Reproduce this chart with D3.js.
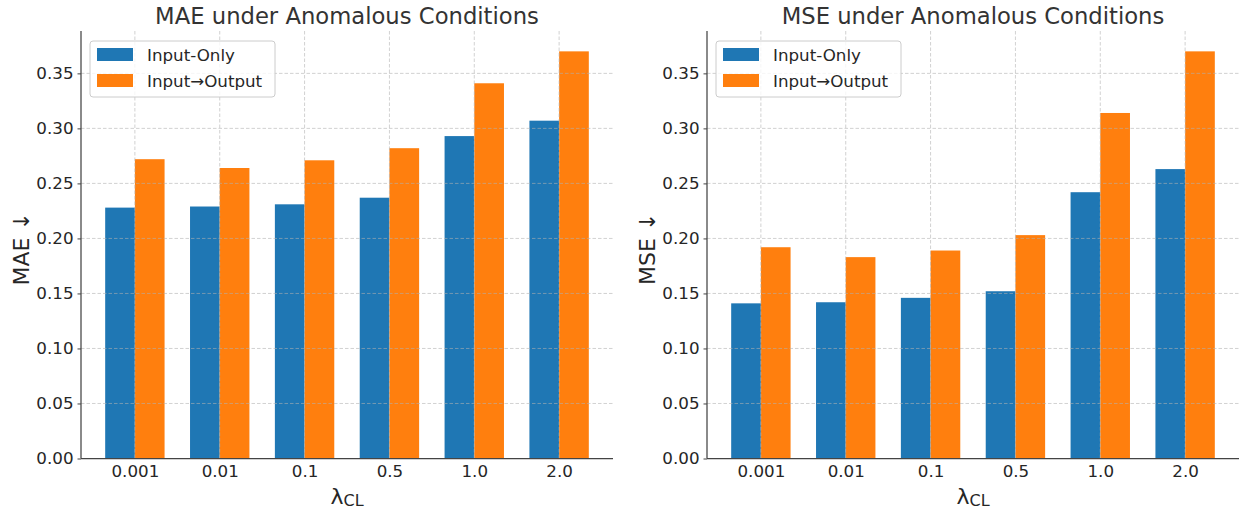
<!DOCTYPE html>
<html>
<head>
<meta charset="utf-8">
<script src="https://cdn.jsdelivr.net/npm/d3@7"></script>
<style>
  html, body { margin: 0; padding: 0; background: #fff; }
  svg { display: block; font-family: "DejaVu Sans", sans-serif; }
</style>
</head>
<body>
<svg id="chart" width="1244" height="509"></svg>
<script>
const categories = ["0.001", "0.01", "0.1", "0.5", "1.0", "2.0"];
const seriesNames = ["Input-Only", "Input\u2192Output"];
const maeInputOnly = [0.228, 0.229, 0.231, 0.237, 0.293, 0.307];
const maeInputOutput = [0.272, 0.264, 0.271, 0.282, 0.341, 0.370];
const mseInputOnly = [0.141, 0.142, 0.146, 0.152, 0.242, 0.263];
const mseInputOutput = [0.192, 0.183, 0.189, 0.203, 0.314, 0.370];
const yTicks = [0.00, 0.05, 0.10, 0.15, 0.20, 0.25, 0.30, 0.35];
const colors = ["#1f77b4", "#ff7f0e"];

const panels = [
  { title: "MAE under Anomalous Conditions", ylabel: "MAE \u2193", values: [maeInputOnly, maeInputOutput], x0: 81, x1: 613, ylabX: 29 },
  { title: "MSE under Anomalous Conditions", ylabel: "MSE \u2193", values: [mseInputOnly, mseInputOutput], x0: 707, x1: 1239, ylabX: 655 }
];

const svg = d3.select("#chart");
const yTop = 31, yBottom = 458.5;
const barW = 0.35;

panels.forEach(p => {
  const g = svg.append("g");
  const n = categories.length;
  const lo = -barW, hi = (n - 1) + barW;
  const pad = (hi - lo) * 0.05;
  const x = d3.scaleLinear().domain([lo - pad, hi + pad]).range([p.x0, p.x1]);
  const maxV = d3.max(p.values.flat());
  const y = d3.scaleLinear().domain([0, maxV * 1.05]).range([yBottom, yTop]);

  // bars
  p.values.forEach((vals, s) => {
    g.append("g").selectAll("rect").data(vals).join("rect")
      .attr("x", (d, i) => x(i + (s === 0 ? -barW : 0)))
      .attr("width", (d, i) => x(barW) - x(0))
      .attr("y", d => y(d))
      .attr("height", d => y(0) - y(d))
      .attr("fill", colors[s]);
  });

  // grid (drawn above bars, semi-transparent)
  const grid = g.append("g").attr("stroke", "#b0b0b0").attr("stroke-opacity", 0.65)
    .attr("stroke-width", 0.9).attr("stroke-dasharray", "3.5,2");
  grid.selectAll("line.h").data(yTicks).join("line").attr("class", "h")
    .attr("x1", p.x0).attr("x2", p.x1)
    .attr("y1", d => y(d)).attr("y2", d => y(d));
  grid.selectAll("line.v").data(categories).join("line").attr("class", "v")
    .attr("x1", (d, i) => x(i)).attr("x2", (d, i) => x(i))
    .attr("y1", yTop).attr("y2", yBottom);

  // y axis
  const yAxis = g.append("g").attr("transform", `translate(${p.x0},0)`)
    .call(d3.axisLeft(y).tickValues(yTicks).tickFormat(d3.format(".2f")).tickSize(3.5).tickPadding(4));
  yAxis.select(".domain").remove();
  yAxis.selectAll(".tick line").attr("stroke", "#444").attr("stroke-width", 1);
  yAxis.selectAll(".tick text").attr("fill", "#262626").style("font-size", "16.7px")
    .style("font-family", "DejaVu Sans");

  // x axis
  const xAxis = g.append("g").attr("transform", `translate(0,${yBottom})`)
    .call(d3.axisBottom(x).tickValues(d3.range(n)).tickFormat(i => categories[i]).tickSize(0).tickPadding(7));
  xAxis.select(".domain").remove();
  xAxis.selectAll(".tick text").attr("fill", "#262626").style("font-size", "16.7px")
    .style("font-family", "DejaVu Sans");

  // spines
  g.append("line").attr("x1", p.x0).attr("x2", p.x0).attr("y1", yTop).attr("y2", yBottom)
    .attr("stroke", "#444").attr("stroke-width", 1.25);
  g.append("line").attr("x1", p.x0).attr("x2", p.x1).attr("y1", yBottom).attr("y2", yBottom)
    .attr("stroke", "#444").attr("stroke-width", 1.25);

  // title
  g.append("text").attr("x", (p.x0 + p.x1) / 2).attr("y", 24).attr("text-anchor", "middle")
    .attr("fill", "#333").style("font-size", "22.7px").text(p.title);

  // x label
  const xl = g.append("text").attr("x", (p.x0 + p.x1) / 2).attr("y", 504).attr("text-anchor", "middle")
    .attr("fill", "#262626").style("font-size", "22px");
  xl.append("tspan").text("\u03bb");
  xl.append("tspan").attr("dy", 2).style("font-size", "16px").text("CL");

  // y label
  g.append("text").attr("transform", `translate(${p.ylabX},${(yTop + yBottom) / 2 + 4}) rotate(-90)`)
    .attr("text-anchor", "middle").attr("fill", "#262626").style("font-size", "22px").text(p.ylabel);

  // legend
  const lg = g.append("g").attr("transform", `translate(${p.x0 + 9},41)`);
  lg.append("rect").attr("width", 185).attr("height", 56).attr("rx", 3)
    .attr("fill", "#fff").attr("fill-opacity", 0.8).attr("stroke", "#cccccc").attr("stroke-width", 1);
  seriesNames.forEach((name, s) => {
    lg.append("rect").attr("x", 7).attr("y", 7 + s * 26).attr("width", 36).attr("height", 13).attr("fill", colors[s]);
    lg.append("text").attr("x", 57).attr("y", 20 + s * 26).attr("fill", "#262626")
      .style("font-size", "16.7px").text(name);
  });
});
</script>
</body>
</html>
